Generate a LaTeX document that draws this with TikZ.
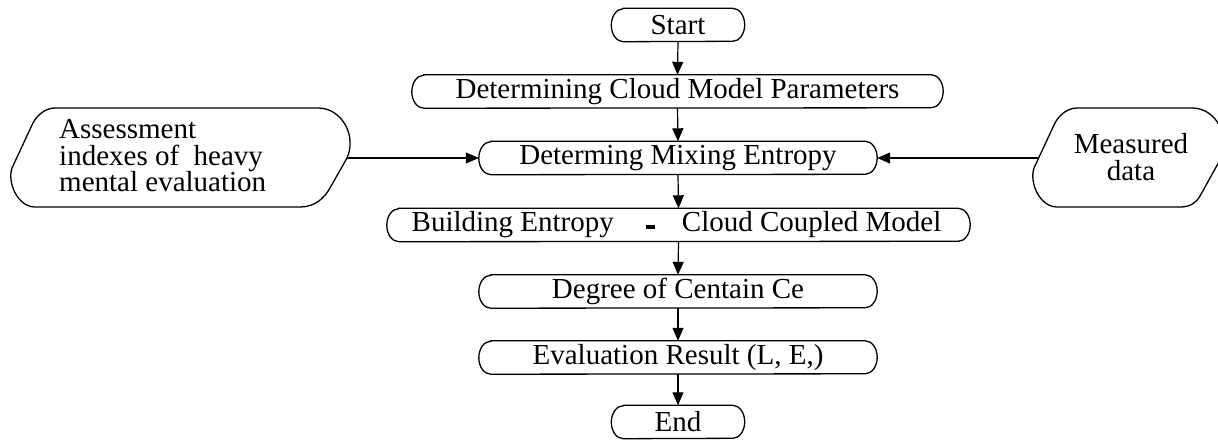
\documentclass[tikz,border=0pt]{standalone}
\usepackage{fontspec}
\setmainfont{Liberation Serif}
\usetikzlibrary{arrows.meta,calc}
\newcommand{\termoutline}[1]{%
  \draw[outline] ($(#1.north west)+(12,0)$) -- ($(#1.north east)+(-12,0)$)
    arc[start angle=90,end angle=-90,x radius=12pt,y radius=16.5pt]
    -- ($(#1.south west)+(12,0)$)
    arc[start angle=270,end angle=90,x radius=12pt,y radius=16.5pt] -- cycle;}
\begin{document}
\begin{tikzpicture}[x=1pt,y=-1pt,
  every node/.style={font=\fontsize{29}{26.5}\selectfont},
  box/.style={inner sep=0pt,minimum height=33pt},
  outline/.style={line width=1.3pt},
  arr/.style={line width=1.2pt,-{Triangle[length=13pt,width=11pt]}}]
\useasboundingbox (0,0) rectangle (1218,441);
\node[box,minimum width=133pt] (start) at (678,25) {Start};
\node[box,minimum width=531pt] (params) at (677.5,91.5) {Determining Cloud Model Parameters};
\node[box,minimum width=398pt] (mix) at (678,158) {Determing Mixing Entropy};
\node[box,minimum width=583pt] (build) at (678.5,225) {\hspace{-4pt}Building Entropy\hspace{32pt}\rule[3pt]{9pt}{4pt}\hspace{27pt}Cloud Coupled Model};
\node[box,minimum width=398pt] (degree) at (678,291.5) {Degree of Centain Ce};
\node[box,minimum width=398pt] (eval) at (678,357.5) {Evaluation Result (L, E,)};
\node[box,minimum width=133pt] (end) at (678,422) {End};
\foreach \n in {start,params,mix,build,degree,eval,end} {\termoutline{\n}}
% left input
\draw[outline] (55,108) -- (318,108) .. controls (342,108) and (357,136) .. (347,158)
  coordinate (assessE) -- (330,188) .. controls (324.4,198) and (315,207) .. (300,207)
  -- (35,207) .. controls (18,207) and (7,183) .. (12,168) -- (32,125)
  .. controls (35.5,117) and (44,108) .. cycle;
\node[align=left,anchor=west,inner sep=0pt] (assess) at (59,156) {Assessment\\indexes of\ \ heavy\\mental evaluation};
% right input
\draw[outline] (1077,108) -- (1192,108) .. controls (1216,108) and (1231,136) .. (1220,160)
  -- (1200,196) .. controls (1196,203) and (1190,207) .. (1180,207)
  -- (1057,207) .. controls (1040,207) and (1029,183) .. (1034,168) -- (1054,125)
  .. controls (1057.5,117) and (1066,108) .. cycle;
\coordinate (measW) at (1038.5,158);
\node[align=center,inner sep=0pt] (meas) at (1131,157) {Measured\\data};
% connectors
\draw[arr] (start.south) -- (params.north);
\draw[arr] (params.south) -- (mix.north);
\draw[arr] (assessE) -- (mix.west);
\draw[arr] (measW) -- (mix.east);
\draw[arr] (mix.south) -- (build.north);
\draw[arr] (build.south) -- (degree.north);
\draw[arr] (degree.south) -- (eval.north);
\draw[arr] (eval.south) -- (end.north);
\end{tikzpicture}
\end{document}
